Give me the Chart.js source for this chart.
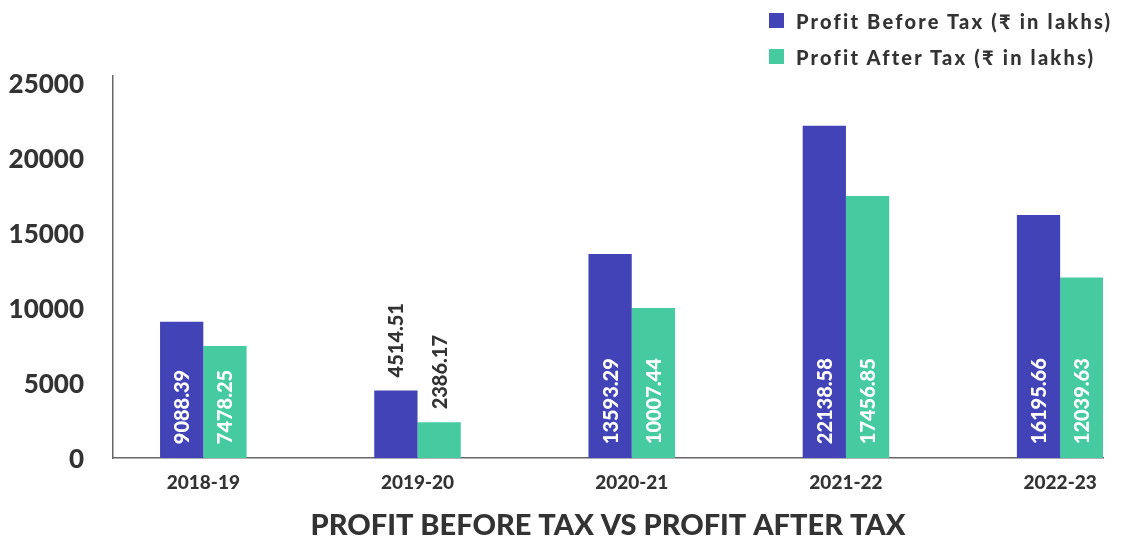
<!DOCTYPE html>
<html>
<head>
<meta charset="utf-8">
<script src="https://cdn.jsdelivr.net/npm/chart.js@4.4.1/dist/chart.umd.min.js"></script>
<style>
  html, body { margin: 0; padding: 0; background: #fff; }
  #wrap { position: relative; width: 1125px; height: 543px; }
  #legend { position: absolute; left: 769px; top: 0; font-family: Lato, "Noto Sans", sans-serif; font-weight: 900; font-size: 20px; letter-spacing: 2.2px; color: #333; }
  #legend .row { position: absolute; left: 0; white-space: nowrap; height: 16px; }
  #legend .sw { position: absolute; left: 0; top: 0; width: 15px; height: 15px; }
  #legend .tx { position: absolute; left: 27px; top: 50%; transform: translateY(-50%); line-height: 1; }
</style>
</head>
<body>
<div id="wrap">
  <canvas id="c" width="1125" height="543"></canvas>
  <div id="legend"></div>
</div>
<script>
const categories = ["2018-19", "2019-20", "2020-21", "2021-22", "2022-23"];
const profitBeforeTax = [9088.39, 4514.51, 13593.29, 22138.58, 16195.66];
const profitAfterTax = [7478.25, 2386.17, 10007.44, 17456.85, 12039.63];
const yTicks = [0, 5000, 10000, 15000, 20000, 25000];
const seriesNames = ["Profit Before Tax (\u20B9 in lakhs)", "Profit After Tax (\u20B9 in lakhs)"];
const titleText = "PROFIT BEFORE TAX VS PROFIT AFTER TAX";

const BLUE = "#4143B6";
const GREEN = "#46CAA0";
const TEXT = "#333333";
const FONT = "Lato, 'Noto Sans', sans-serif";

const toPoints = arr => arr.map((v, i) => ({ x: i, y: v }));

const valueLabels = {
  id: 'valueLabels',
  afterDatasetsDraw(chart) {
    const ctx = chart.ctx;
    ctx.save();
    ctx.font = "900 20px " + FONT;
    chart.data.datasets.forEach((ds, di) => {
      const meta = chart.getDatasetMeta(di);
      meta.data.forEach((bar, i) => {
        const txt = ds.data[i].y.toFixed(2);
        const w = ctx.measureText(txt).width;
        const h = bar.base - bar.y;
        ctx.save();
        if (h >= w + 28) {
          ctx.translate(bar.x, bar.base - 14);
          ctx.rotate(-Math.PI / 2);
          ctx.fillStyle = "#ffffff";
        } else {
          ctx.translate(bar.x, bar.y - 13);
          ctx.rotate(-Math.PI / 2);
          ctx.fillStyle = TEXT;
        }
        ctx.textAlign = "left";
        ctx.textBaseline = "middle";
        ctx.fillText(txt, 0, 1);
        ctx.restore();
      });
    });
    ctx.restore();
  }
};

const chart = new Chart(document.getElementById('c'), {
  type: 'bar',
  data: {
    datasets: [
      { label: seriesNames[0], data: toPoints(profitBeforeTax), backgroundColor: BLUE },
      { label: seriesNames[1], data: toPoints(profitAfterTax), backgroundColor: GREEN }
    ]
  },
  options: {
    responsive: false,
    animation: false,
    events: [],
    layout: { padding: { top: 76, right: 22, left: 0, bottom: 0 } },
    barPercentage: 1,
    categoryPercentage: 0.404,
    scales: {
      x: {
        type: 'linear',
        offset: false,
        min: -0.4216,
        max: 4.2,
        grid: { display: false, offset: false },
        border: { display: true, color: '#666666', width: 1.5 },
        afterBuildTicks: s => { s.ticks = categories.map((c, i) => ({ value: i })); },
        afterFit: s => { s.height = 34; },
        ticks: {
          autoSkip: false,
          maxRotation: 0,
          padding: 5,
          color: TEXT,
          font: { family: FONT, weight: '900', size: 19 },
          callback: v => categories[v] !== undefined ? categories[v] : ''
        }
      },
      y: {
        min: 0,
        max: 25450,
        grid: { display: false },
        border: { display: true, color: '#666666', width: 1.5 },
        afterBuildTicks: s => { s.ticks = yTicks.map(v => ({ value: v })); },
        afterFit: s => { s.width = 113; },
        ticks: {
          padding: 21,
          labelOffset: 1.5,
          color: TEXT,
          font: { family: FONT, weight: '900', size: 26 },
          callback: v => String(v)
        }
      }
    },
    plugins: {
      legend: { display: false },
      tooltip: { enabled: false },
      title: {
        display: true,
        text: titleText,
        position: 'bottom',
        fullSize: false,
        color: TEXT,
        font: { family: FONT, weight: '900', size: 29, lineHeight: 1.2 },
        padding: { top: 16, bottom: 0 }
      }
    }
  },
  plugins: [valueLabels]
});

// HTML legend built from the chart's datasets
const legend = document.getElementById('legend');
const rowTops = [13, 49];
chart.data.datasets.forEach((ds, i) => {
  const row = document.createElement('div');
  row.className = 'row';
  row.style.top = rowTops[i] + 'px';
  const sw = document.createElement('span');
  sw.className = 'sw';
  sw.style.background = ds.backgroundColor;
  const tx = document.createElement('span');
  tx.className = 'tx';
  tx.textContent = ds.label;
  row.appendChild(sw);
  row.appendChild(tx);
  legend.appendChild(row);
});
</script>
</body>
</html>
